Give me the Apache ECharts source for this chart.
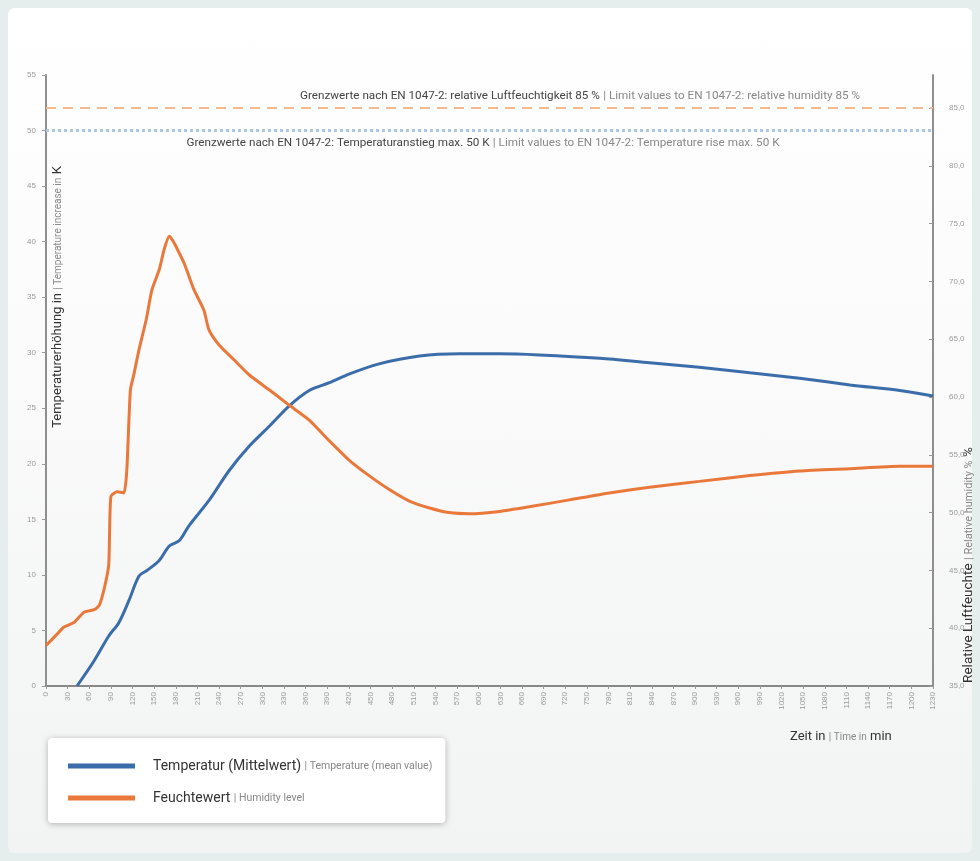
<!DOCTYPE html>
<html>
<head>
<meta charset="utf-8">
<script src="https://cdn.jsdelivr.net/npm/echarts@6/dist/echarts.min.js"></script>
<style>
html,body{margin:0;padding:0;width:980px;height:861px;background:#e5eded;overflow:hidden;}
#panel{position:absolute;left:8px;top:8px;width:964px;height:845px;border-radius:6px;background:linear-gradient(#ffffff 0%,#fbfbfb 40%,#f2f3f3 100%);}
#chart{position:absolute;left:0;top:0;width:980px;height:861px;}
</style>
</head>
<body>
<div id="panel"></div>
<div id="chart"></div>
<script>
// time axis (min)
const tTemp = [43, 67, 87, 101, 115, 129, 140, 157, 171, 185, 198, 226, 254, 282, 310, 337, 365, 393, 421, 462, 518, 573, 629, 684, 768, 837, 906, 976, 1045, 1115, 1184, 1230];
const tempValues = [0, 2.3, 4.5, 5.7, 7.7, 9.9, 10.4, 11.3, 12.6, 13.1, 14.4, 16.7, 19.4, 21.6, 23.4, 25.2, 26.6, 27.3, 28.1, 29.0, 29.7, 29.9, 29.9, 29.8, 29.5, 29.1, 28.7, 28.2, 27.7, 27.1, 26.6, 26.1];
const tHum = [0, 14, 25, 39, 53, 67, 74, 81, 87, 90, 99, 108, 112, 117, 122, 129, 139, 147, 157, 164, 171, 176, 182, 192, 205, 219, 226, 240, 261, 282, 310, 337, 365, 393, 421, 448, 476, 504, 532, 559, 587, 629, 670, 726, 781, 837, 906, 976, 1045, 1115, 1184, 1230];
const humValues = [38.5, 39.4, 40.1, 40.5, 41.4, 41.6, 42.0, 43.5, 45.5, 51.4, 51.8, 51.7, 53.6, 60.6, 62.0, 64.1, 66.7, 69.3, 71.0, 72.8, 73.9, 73.5, 72.8, 71.5, 69.3, 67.5, 65.8, 64.5, 63.2, 61.9, 60.6, 59.3, 58.0, 56.2, 54.5, 53.2, 52.0, 51.0, 50.4, 50.0, 49.9, 50.1, 50.5, 51.1, 51.7, 52.2, 52.7, 53.2, 53.6, 53.8, 54.0, 54.0];
const rightTicks = [35, 40, 45, 50, 55, 60, 65, 70, 75, 80, 85];
const tempLimit = 50;
const humLimit = 85;
const seriesNames = ['Temperatur (Mittelwert)', 'Feuchtewert'];
const seriesSub = ['Temperature (mean value)', 'Humidity level'];

const NARROW = '"Liberation Sans Narrow", Roboto, sans-serif';
const MAIN = 'Roboto, "Noto Sans", sans-serif';

const chart = echarts.init(document.getElementById('chart'), null, {renderer: 'canvas'});
const option = {
  animation: false,
  grid: {left: 46, right: 47, top: 75, bottom: 175},
  legend: {
    orient: 'vertical', left: 48, top: 738,
    padding: [20, 13, 17, 20], itemGap: 16,
    itemWidth: 67, itemHeight: 5, icon: 'rect',
    backgroundColor: '#ffffff', borderRadius: 4,
    shadowBlur: 6, shadowColor: 'rgba(0,0,0,0.28)', shadowOffsetY: 1,
    data: seriesNames,
    formatter: n => `{a|${n}} {b|| ${seriesSub[seriesNames.indexOf(n)]}}`,
    textStyle: {
      padding: [0, 0, 0, 13], lineHeight: 16,
      rich: {
        a: {fontFamily: MAIN, fontSize: 14, color: '#333'},
        b: {fontFamily: NARROW, fontSize: 10.5, color: '#888'}
      }
    }
  },
  xAxis: {
    type: 'value', min: 0, max: 1230, interval: 30,
    axisLine: {lineStyle: {color: '#888', width: 2}},
    axisTick: {show: true, length: 3, lineStyle: {color: '#999'}},
    splitLine: {show: false},
    axisLabel: {rotate: 90, fontSize: 8, color: '#9a9a9a', margin: 6, formatter: v => String(v)}
  },
  yAxis: [{
    type: 'value', min: 0, max: 55, interval: 5,
    axisLine: {show: true, lineStyle: {color: '#8f8f8f', width: 2}},
    axisTick: {show: true, length: 4, lineStyle: {color: '#999'}},
    splitLine: {show: false},
    axisLabel: {fontSize: 8, color: '#9a9a9a', margin: 10}
  }, {
    type: 'value', min: 35, max: 87.85, interval: 5, position: 'right',
    axisLine: {show: true, lineStyle: {color: '#8f8f8f', width: 2}},
    axisTick: {show: true, inside: true, length: 4, customValues: rightTicks, lineStyle: {color: '#999'}},
    splitLine: {show: false},
    axisLabel: {fontSize: 8, color: '#9a9a9a', margin: 16, customValues: rightTicks,
      formatter: v => (v % 5 === 0 ? v.toFixed(1).replace('.', ',') : '')}
  }],
  series: [{
    name: seriesNames[0], type: 'line', yAxisIndex: 0, showSymbol: false, smooth: 0.3,
    itemStyle: {color: '#3b6daa'},
    lineStyle: {color: '#3b6daa', width: 3},
    data: tTemp.map((t, i) => [t, tempValues[i]]),
    markLine: {silent: true, symbol: 'none', label: {show: false},
      lineStyle: {color: '#aac8e6', width: 3, type: [3, 3]},
      data: [{yAxis: tempLimit}]}
  }, {
    name: seriesNames[1], type: 'line', yAxisIndex: 1, showSymbol: false, smooth: 0.2,
    itemStyle: {color: '#e9783a'},
    lineStyle: {color: '#e9783a', width: 3},
    data: tHum.map((t, i) => [t, humValues[i]]),
    markLine: {silent: true, symbol: 'none', label: {show: false},
      lineStyle: {color: '#f4b98f', width: 2, type: [10, 7]},
      data: [{yAxis: humLimit}]}
  }],
  graphic: [
    {type: 'text', x: 580, y: 96, style: {
      text: '{c|Grenzwerte nach EN 1047-2: relative Luftfeuchtigkeit 85 %} {d|| Limit values to EN 1047-2: relative humidity 85 %}',
      align: 'center', verticalAlign: 'middle',
      rich: {c: {fontFamily: NARROW, fontSize: 11.7, fill: '#444'}, d: {fontFamily: NARROW, fontSize: 11.7, fill: '#888'}}}},
    {type: 'text', x: 483, y: 143, style: {
      text: '{c|Grenzwerte nach EN 1047-2: Temperaturanstieg max. 50 K} {d|| Limit values to EN 1047-2: Temperature rise max. 50 K}',
      align: 'center', verticalAlign: 'middle',
      rich: {c: {fontFamily: NARROW, fontSize: 11.7, fill: '#444'}, d: {fontFamily: NARROW, fontSize: 11.7, fill: '#888'}}}},
    {type: 'text', x: 58, y: 297, rotation: Math.PI / 2, style: {
      text: '{a|Temperaturerhöhung in} {b|| Temperature increase in} {a|K}',
      align: 'center', verticalAlign: 'middle',
      rich: {a: {fontFamily: MAIN, fontSize: 13, fill: '#333'}, b: {fontFamily: NARROW, fontSize: 10, fill: '#888'}}}},
    {type: 'text', x: 969, y: 565, rotation: Math.PI / 2, style: {
      text: '{a|Relative Luftfeuchte} {b|| Relative humidity %} {a|%}',
      align: 'center', verticalAlign: 'middle',
      rich: {a: {fontFamily: MAIN, fontSize: 13.5, fill: '#333'}, b: {fontFamily: NARROW, fontSize: 11, fill: '#888'}}}},
    {type: 'text', x: 790, y: 737, style: {
      text: '{a|Zeit in} {b|| Time in} {a|min}',
      align: 'left', verticalAlign: 'middle',
      rich: {a: {fontFamily: MAIN, fontSize: 13, fill: '#333'}, b: {fontFamily: NARROW, fontSize: 10, fill: '#888'}}}}
  ]
};
chart.setOption(option);
</script>
</body>
</html>
